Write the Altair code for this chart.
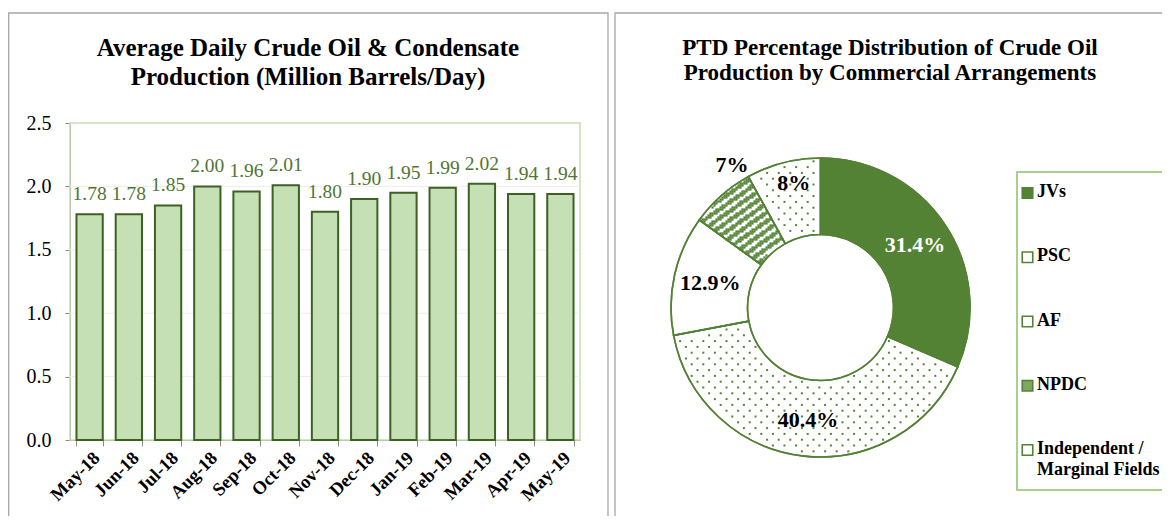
import math
import altair as alt
import pandas as pd

# ---------------- data ----------------
months = ["May-18", "Jun-18", "Jul-18", "Aug-18", "Sep-18", "Oct-18", "Nov-18",
          "Dec-18", "Jan-19", "Feb-19", "Mar-19", "Apr-19", "May-19"]
production = [1.78, 1.78, 1.85, 2.00, 1.96, 2.01, 1.80, 1.90, 1.95, 1.99, 2.02, 1.94, 1.94]
y_ticks = [0.0, 0.5, 1.0, 1.5, 2.0, 2.5]

arrangements = ["JVs", "PSC", "AF", "NPDC", "Independent / Marginal Fields"]
shares = [31.4, 40.4, 12.9, 7.0, 8.0]
share_labels = ["31.4%", "40.4%", "12.9%", "7%", "8%"]
legend_labels = ["JVs", "PSC", "AF", "NPDC", "Independent /\nMarginal Fields"]

title_left = ["Average Daily Crude Oil & Condensate", "Production (Million Barrels/Day)"]
title_right = ["PTD Percentage Distribution of Crude Oil", "Production by Commercial Arrangements"]

# ---------------- layout / style ----------------
W, H = 1154, 508
PX0, PX1, PY0, PY1 = 62, 572, 115, 432
CX, CY, R_OUT, R_IN = 812.5, 299.5, 149.5, 73
SERIF = "Liberation Serif"
GREEN = "#548235"
BAR_FILL = "#c5e0b4"
BAR_STROKE = "#3d6123"
LABEL_GREEN = "#4f7532"
GREY = "#a6a6a6"
AXIS_GREY = "#8c8c8c"

TOTAL = sum(shares)
cum = [sum(shares[:i + 1]) for i in range(len(shares))]

one = pd.DataFrame({"a": [0]})

# ---------------- frames & titles ----------------
left_frame = alt.Chart(one).mark_rect(fillOpacity=0, stroke=GREY, strokeWidth=1.3).encode(
    x=alt.value(0.7), x2=alt.value(600), y=alt.value(5), y2=alt.value(H + 30))
right_frame = alt.Chart(one).mark_rect(fillOpacity=0, stroke=GREY, strokeWidth=1.3).encode(
    x=alt.value(607), x2=alt.value(W + 30), y=alt.value(5), y2=alt.value(H + 30))
t_left = alt.Chart(one).mark_text(font=SERIF, fontWeight="bold", fontSize=25, lineHeight=29,
                                  baseline="middle", align="center", color="black").encode(
    x=alt.value(300), y=alt.value(40), text=alt.value(title_left))
t_right = alt.Chart(one).mark_text(font=SERIF, fontWeight="bold", fontSize=23, lineHeight=25,
                                   baseline="middle", align="center", color="black").encode(
    x=alt.value(882), y=alt.value(40), text=alt.value(title_right))
decor = alt.layer(left_frame, right_frame, t_left, t_right)

# ---------------- bar chart ----------------
bar_df = pd.DataFrame({"month": months, "value": production})
grid_df = pd.DataFrame({"value": y_ticks[1:-1]})

x_enc = alt.X("month:N", sort=months,
              scale=alt.Scale(domain=months, range=[PX0, PX1], paddingInner=0.33, paddingOuter=0.165),
              axis=alt.Axis(orient="bottom", offset=PY1 - H, title=None, labelAngle=-45,
                            labelAlign="right", labelBaseline="top", labelFont=SERIF,
                            labelFontWeight="bold", labelFontSize=18.5, labelColor="black",
                            domainColor=AXIS_GREY, tickColor=AXIS_GREY, tickSize=6,
                            tickBand="extent", labelPadding=2, grid=False))
y_enc = alt.Y("value:Q",
              scale=alt.Scale(domain=[0, 2.5], range=[PY1, PY0], nice=False),
              axis=alt.Axis(orient="left", offset=-PX0, values=y_ticks, format=".1f", title=None,
                            grid=False, domainColor=AXIS_GREY, tickColor=AXIS_GREY, tickSize=5,
                            labelFont=SERIF, labelFontSize=20, labelColor="black", labelPadding=14))

plot_border = alt.Chart(one).mark_rect(fillOpacity=0, stroke=BAR_FILL, strokeWidth=1.5).encode(
    x=alt.value(PX0), x2=alt.value(PX1), y=alt.value(PY0), y2=alt.value(PY1))
grid = alt.Chart(grid_df).mark_rule(color="#ededed", strokeWidth=1).encode(
    y=y_enc, x=alt.value(PX0), x2=alt.value(PX1))
bars = alt.Chart(bar_df).mark_bar(fill=BAR_FILL, stroke=BAR_STROKE, strokeWidth=2).encode(
    x=x_enc, y=y_enc)
bar_text = alt.Chart(bar_df).mark_text(font=SERIF, fontSize=19.5, color=LABEL_GREEN,
                                       baseline="alphabetic", dy=-14).encode(
    x=x_enc, y=y_enc, text=alt.Text("value:Q", format=".2f"))
bar_layer = alt.layer(plot_border, grid, bars, bar_text)

# ---------------- donut ----------------
donut_df = pd.DataFrame({"cat": arrangements, "share": shares, "label": share_labels,
                         "order": list(range(len(shares)))})
theta_scale = alt.Scale(domain=[0, TOTAL], range=[0, 2 * math.pi])
base = alt.Chart(donut_df).transform_window(
    cum="sum(share)", sort=[alt.SortField("order")]
).transform_calculate(start="datum.cum - datum.share", mid="datum.cum - datum.share / 2")

fills = [GREEN, "white", "white", "white", "white"]
arcs = base.mark_arc(innerRadius=R_IN, outerRadius=R_OUT, stroke=GREEN, strokeWidth=1.6).encode(
    theta=alt.Theta("start:Q", scale=theta_scale, stack=None), theta2="cum:Q",
    fill=alt.Fill("cat:N", scale=alt.Scale(domain=arrangements, range=fills), legend=None),
    x=alt.value(CX), y=alt.value(CY))
arcs_outline = base.mark_arc(innerRadius=R_IN, outerRadius=R_OUT, stroke=GREEN, strokeWidth=1.6,
                             fillOpacity=0).encode(
    theta=alt.Theta("start:Q", scale=theta_scale, stack=None), theta2="cum:Q",
    x=alt.value(CX), y=alt.value(CY))

pix_x = alt.Scale(domain=[0, W], range=[0, W], nice=False, zero=False)
pix_y = alt.Scale(domain=[0, H], range=[0, H], nice=False, zero=False)

# dotted pattern for PSC and Independent/Marginal slices
SP = 11.6
NXd, NYd = 27, 53
dots = alt.Chart(alt.sequence(0, NXd * NYd, as_="i")).transform_calculate(
    gx=f"datum.i % {NXd}", gy=f"floor(datum.i / {NXd})"
).transform_calculate(
    dx=f"-152 + datum.gx * {SP} + (datum.gy % 2) * {SP / 2}", dy=f"-152 + datum.gy * {SP / 2}"
).transform_calculate(
    r="sqrt(datum.dx * datum.dx + datum.dy * datum.dy)",
    frac=f"((atan2(datum.dx, -datum.dy) + 2 * PI) % (2 * PI)) / (2 * PI) * {TOTAL}"
).transform_filter(
    f"datum.r > {R_IN + 3} && datum.r < {R_OUT - 3} && "
    f"((datum.frac > {cum[0] + 0.6} && datum.frac < {cum[1] - 0.6}) || "
    f"(datum.frac > {cum[3] + 0.8} && datum.frac < {cum[4] - 0.6}))"
).transform_calculate(px=f"{CX} + datum.dx", py=f"{CY} + datum.dy").mark_square(
    size=4, color=GREEN, opacity=1).encode(
    x=alt.X("px:Q", scale=pix_x, axis=None), y=alt.Y("py:Q", scale=pix_y, axis=None))

# striped pattern for NPDC slice
ST = 2
NXs = 77
stripes = alt.Chart(alt.sequence(0, NXs * NXs, as_="i")).transform_calculate(
    dx=f"-152 + (datum.i % {NXs}) * {ST}", dy=f"-152 + floor(datum.i / {NXs}) * {ST}"
).transform_calculate(
    r="sqrt(datum.dx * datum.dx + datum.dy * datum.dy)",
    frac=f"((atan2(datum.dx, -datum.dy) + 2 * PI) % (2 * PI)) / (2 * PI) * {TOTAL}",
    band="(((datum.dy + 0.7 * datum.dx) % 9) + 9) % 9"
).transform_filter(
    f"datum.r > {R_IN + 1} && datum.r < {R_OUT - 1} && datum.frac > {cum[2]} && "
    f"datum.frac < {cum[3]} && datum.band < 4.5"
).transform_calculate(px=f"{CX} + datum.dx", py=f"{CY} + datum.dy").mark_square(
    size=5, color=GREEN, opacity=1).encode(
    x=alt.X("px:Q", scale=pix_x, axis=None), y=alt.Y("py:Q", scale=pix_y, axis=None))

lab_kw = dict(font=SERIF, fontWeight="bold", fontSize=22, baseline="middle", align="center")
lab_main = base.transform_filter(
    alt.FieldOneOfPredicate(field="cat", oneOf=arrangements[:3])
).mark_text(radius=113, **lab_kw).encode(
    theta=alt.Theta("mid:Q", scale=theta_scale, stack=None), text="label:N",
    color=alt.condition("datum.cat == 'JVs'", alt.value("white"), alt.value("black")),
    x=alt.value(CX), y=alt.value(CY))
lab_ind = base.transform_filter(
    alt.FieldEqualPredicate(field="cat", equal=arrangements[4])
).mark_text(radius=127, thetaOffset=0.04, color="black", **lab_kw).encode(
    theta=alt.Theta("mid:Q", scale=theta_scale, stack=None), text="label:N",
    x=alt.value(CX), y=alt.value(CY))
lab_npdc = base.transform_filter(
    alt.FieldEqualPredicate(field="cat", equal=arrangements[3])
).mark_text(radius=168, thetaOffset=0.17, color="black", **lab_kw).encode(
    theta=alt.Theta("mid:Q", scale=theta_scale, stack=None), text="label:N",
    x=alt.value(CX), y=alt.value(CY))

donut_layer = alt.layer(arcs, dots, stripes, arcs_outline, lab_main, lab_ind, lab_npdc)

# ---------------- legend ----------------
leg_df = pd.DataFrame({"cat": arrangements, "text": legend_labels})
leg_y = alt.Y("cat:N", scale=alt.Scale(type="point", domain=arrangements, range=[185, 442], padding=0),
              axis=None)
legend_fills = [GREEN, "white", "white", "#7fa662", "white"]
leg_box = alt.Chart(one).mark_rect(fillOpacity=0, stroke="#a9d18e", strokeWidth=2).encode(
    x=alt.value(1009), x2=alt.value(W + 30), y=alt.value(164), y2=alt.value(482))
leg_sq = alt.Chart(leg_df).mark_square(size=110, stroke=GREEN, strokeWidth=1.6, opacity=1).encode(
    x=alt.value(1019.5), y=leg_y,
    fill=alt.Fill("cat:N", scale=alt.Scale(domain=arrangements, range=legend_fills), legend=None))
leg_txt = alt.Chart(leg_df).mark_text(font=SERIF, fontWeight="bold", fontSize=18, align="left",
                                      baseline="top", dy=-10, lineBreak="\n", lineHeight=21,
                                      color="black").encode(
    x=alt.value(1029), y=leg_y, text="text:N")
legend_layer = alt.layer(leg_box, leg_sq, leg_txt)

chart = alt.layer(decor, bar_layer, donut_layer, legend_layer).resolve_scale(
    x="independent", y="independent", fill="independent", color="independent", theta="independent"
).properties(
    width=W, height=H, padding=0, autosize=alt.AutoSizeParams(type="none"), background="white"
).configure_view(stroke=None)

chart.save("out.html", embed_options={"renderer": "svg", "actions": False})
